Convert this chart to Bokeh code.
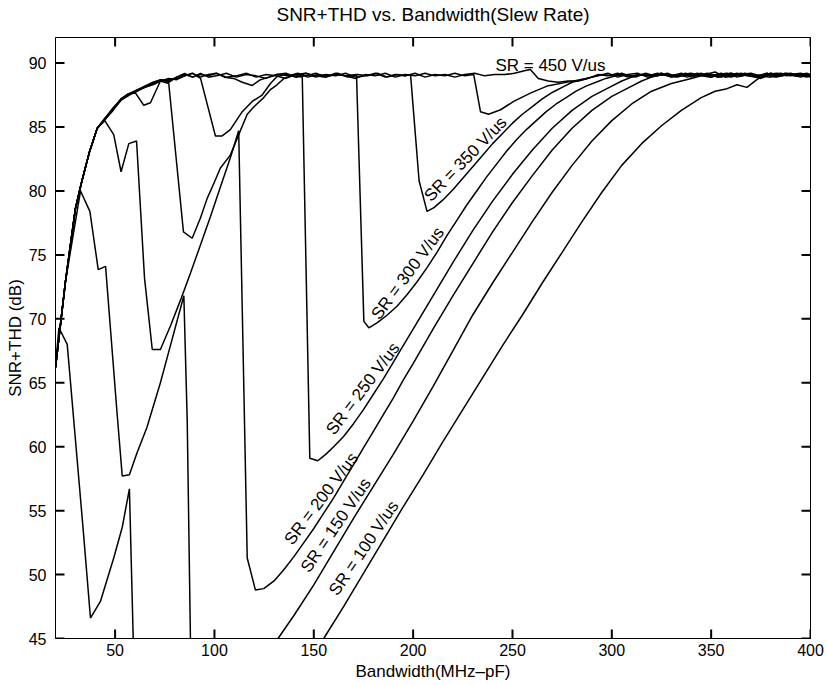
from bokeh.plotting import figure
from bokeh.models import Range1d, FixedTicker, ColumnDataSource, LinearAxis
from bokeh.embed import file_html
from bokeh.resources import INLINE
from bokeh.core.properties import value

# ---------------- data ----------------
bw_450 = [20, 25, 30, 33, 37, 41, 45, 49, 53, 57, 61, 65, 69, 73, 77, 81, 85, 89, 93, 97, 101, 106, 111, 116, 121,
          126, 131, 136, 141, 146, 151, 156, 161, 166, 171, 176, 181, 186, 191, 196, 201, 206, 211, 216, 221, 226,
          231, 236, 241, 246, 251, 256, 259, 263, 268, 273, 278, 283, 288, 293, 298, 303, 308, 313, 318, 323, 328,
          333, 338, 343, 348, 353, 358, 363, 368, 373, 378, 383, 388, 393, 398, 400]
snr_450 = [66.2, 72.9, 78.6, 80.6, 83.0, 84.9, 85.7, 86.5, 87.2, 87.6, 87.9, 88.2, 88.5, 88.7, 88.6, 88.9, 89.1, 88.9,
           89.2, 88.9, 89.0, 89.2, 88.9, 89.1, 89.0, 88.8, 89.1, 89.2, 88.9, 89.0, 89.2, 88.9, 89.1, 89.0, 88.8, 89.1,
           89.0, 89.2, 88.9, 89.1, 89.0, 89.2, 89.0, 89.1, 88.9, 89.1, 89.2, 89.0, 89.1, 89.1, 89.2, 89.4, 89.5, 88.8,
           88.6, 88.5, 88.6, 88.6, 88.8, 89.1, 89.0, 89.2, 88.9, 89.1, 89.0, 89.2, 89.0, 89.1, 88.9, 89.2, 89.0, 89.1,
           89.2, 88.9, 89.1, 89.0, 89.2, 88.9, 89.1, 89.0, 89.2, 89.1]

bw_400 = [20, 25, 30, 33, 37, 41, 45, 49, 53, 57, 61, 65, 69, 73, 77, 81, 85, 89, 93, 97, 101, 106, 111, 116, 121,
          126, 131, 136, 141, 146, 151, 156, 161, 166, 171, 176, 181, 186, 191, 196, 201, 206, 211, 216, 221, 226,
          230.5, 233.9, 238, 244, 250.6, 259, 267.4, 279, 287, 293, 298, 303, 308, 313, 318, 323, 328, 333, 338, 343,
          348, 353, 358, 363, 368, 373, 378, 383, 388, 393, 398, 400]
snr_400 = [66.2, 72.9, 78.6, 80.6, 83.0, 84.9, 85.6, 86.4, 87.1, 87.5, 87.8, 88.1, 88.4, 88.6, 88.7, 88.8, 89.0, 89.2,
           88.9, 89.1, 89.2, 88.9, 89.0, 89.2, 88.9, 89.1, 89.0, 88.8, 89.1, 89.2, 88.9, 89.1, 89.0, 89.2, 88.9, 89.0,
           89.2, 88.9, 89.1, 89.0, 89.2, 88.9, 89.1, 89.0, 89.2, 89.0, 89.1, 86.2, 86.0, 86.35, 87.0, 87.65, 88.2,
           88.55, 88.8, 89.0, 89.2, 88.9, 89.1, 89.2, 88.9, 89.0, 89.2, 88.9, 89.1, 89.0, 89.2, 88.9, 89.0, 89.2,
           89.0, 88.9, 89.1, 89.2, 89.0, 89.1, 88.9, 89.0]

bw_350 = [20, 25, 30, 33, 37, 41, 45, 49, 53, 57, 61, 65, 69, 73, 77, 81, 85, 89, 93, 97, 101, 105, 109.7, 114, 119,
          123.2, 127.3, 132, 137, 142, 147, 152, 157, 162, 167, 172, 177, 182, 187, 192, 196, 198.7, 203, 207, 210.5,
          215, 220, 225, 230, 235, 240, 245, 250, 255, 260, 265, 270, 275, 280, 285, 290, 295, 300, 305, 310, 315,
          320, 325, 330, 335, 340, 345, 350, 355, 360, 365, 370, 375, 380, 385, 390, 395, 400]
snr_350 = [66.2, 72.9, 78.6, 80.6, 83.0, 84.9, 85.6, 86.4, 87.2, 87.6, 87.8, 88.2, 88.4, 88.7, 88.5, 88.9, 89.2, 88.9,
           89.1, 89.0, 89.2, 88.9, 88.8, 88.5, 88.25, 88.7, 88.9, 89.1, 89.0, 89.2, 88.9, 89.1, 89.0, 89.2, 88.9, 89.1,
           89.0, 89.2, 88.9, 89.1, 89.0, 89.1, 80.8, 78.4, 78.7, 79.3, 80.1, 81.0, 81.9, 82.8, 83.7, 84.5, 85.3, 86.0,
           86.6, 87.2, 87.7, 88.1, 88.5, 88.7, 88.9, 89.1, 89.0, 89.2, 88.9, 89.1, 89.0, 89.2, 88.9, 89.1, 89.2, 89.0,
           88.9, 89.1, 89.2, 89.0, 89.1, 88.9, 89.2, 89.0, 89.1, 88.9, 89.1]

bw_300 = [20, 25, 30, 33, 37, 41, 45, 49, 53, 57, 61, 65, 69, 73, 77, 81, 85, 89, 93, 100.5, 103.9, 108, 114, 119,
          124, 128.2, 131.5, 136, 141, 146, 151, 156, 161, 166, 171.5, 175.2, 177.7, 182, 187, 192, 197, 202, 207,
          212, 217, 222, 227, 232, 237, 242, 247, 252, 257, 262, 267, 272, 277, 282, 287, 292, 297, 302, 307, 312,
          317, 322, 327, 332, 337, 342, 347, 352, 357, 362, 367, 372, 377, 382, 387, 392, 397, 400]
snr_300 = [66.2, 72.9, 78.6, 80.6, 83.0, 84.9, 85.6, 86.3, 87.1, 87.5, 87.9, 88.1, 88.3, 88.6, 88.8, 88.7, 89.0, 89.2,
           88.8, 84.3, 84.3, 84.8, 86.2, 87.0, 87.5, 88.4, 88.95, 89.1, 88.9, 89.2, 89.0, 88.9, 89.2, 89.0, 89.1, 69.8,
           69.3, 69.7, 70.3, 71.0, 71.9, 72.9, 74.0, 75.2, 76.5, 77.7, 78.9, 80.0, 81.1, 82.1, 83.1, 84.0, 84.8, 85.5,
           86.2, 86.8, 87.3, 87.8, 88.2, 88.5, 88.8, 89.0, 89.1, 88.9, 89.2, 89.0, 89.1, 88.9, 89.2, 89.0, 89.1, 89.3,
           88.9, 89.0, 89.2, 89.0, 89.1, 88.9, 89.2, 89.0, 89.1, 89.0]

bw_250 = [20, 25, 30, 33, 37, 41, 45, 49, 53, 56.5, 60.3, 64.4, 67.8, 72.8, 77, 84.4, 88.8, 93, 96.3, 100, 103, 108,
          113, 116.5, 120, 124.8, 128, 131.5, 135, 140, 144.2, 148, 152, 156, 160, 165, 170, 175, 180, 185, 190, 195,
          200, 210, 220, 230, 240, 250, 260, 270, 280, 290, 300, 305, 310, 315, 320, 325, 330, 335, 340, 345, 350,
          355, 360, 365, 370, 375, 380, 385, 390, 395, 400]
snr_250 = [66.2, 72.9, 78.6, 80.6, 83.0, 84.9, 85.7, 86.4, 87.2, 87.6, 87.65, 86.7, 86.9, 88.6, 88.4, 76.8, 76.3, 77.9,
           79.4, 80.7, 81.8, 82.8, 84.7, 86.0, 86.6, 87.3, 87.9, 88.3, 88.8, 89.1, 88.9, 59.1, 58.9, 59.4, 60.0, 60.8,
           61.8, 62.9, 64.1, 65.3, 66.6, 67.9, 69.2, 71.8, 74.4, 76.9, 79.2, 81.3, 83.2, 84.9, 86.3, 87.4, 88.2, 88.6,
           88.9, 89.1, 89.0, 89.2, 88.9, 89.1, 89.0, 89.2, 88.9, 89.1, 89.0, 89.2, 89.0, 88.8, 89.1, 89.2, 89.0, 89.1,
           88.9]

bw_200 = [20, 25, 30, 33, 37, 41, 44.8, 49.3, 53, 56.9, 60.8, 64.8, 68.7, 72.8, 78, 83, 88, 93, 98, 103, 108, 112.2,
          116.5, 120.6, 124.8, 130, 135, 140, 145, 150, 155, 160, 165, 170, 175, 180, 185, 190, 195, 200, 210, 220,
          230, 240, 250, 260, 270, 280, 290, 300, 310, 315, 320, 325, 330, 335, 340, 345, 350, 355, 360, 365, 370,
          375, 380, 385, 390, 395, 400]
snr_200 = [66.2, 72.9, 78.6, 80.6, 83.0, 84.9, 85.5, 84.4, 81.5, 83.7, 83.9, 73.2, 67.6, 67.6, 69.5, 71.5, 73.6, 75.8,
           78.0, 80.3, 82.6, 84.7, 51.3, 48.8, 48.9, 49.5, 50.4, 51.4, 52.5, 53.6, 54.8, 56.0, 57.3, 58.6, 59.9, 61.2,
           62.5, 63.8, 65.2, 66.5, 69.2, 71.8, 74.3, 76.8, 79.1, 81.2, 83.2, 84.9, 86.3, 87.4, 88.2, 88.6, 88.9, 89.1,
           89.0, 89.2, 88.9, 89.1, 89.0, 89.2, 88.9, 89.1, 89.2, 89.0, 88.9, 89.1, 89.2, 89.0, 89.1]

bw_150 = [20, 25, 32.6, 37.3, 41.5, 45.2, 51, 53.6, 57.2, 61, 66, 72.8, 78, 84.6, 86.3, 88.2, 110, 128, 132, 140, 150,
          160, 170, 180, 190, 200, 210, 220, 230, 240, 250, 260, 270, 280, 290, 300, 310, 320, 330, 340, 345, 350,
          355, 360, 365, 370, 375, 380, 385, 390, 395, 400]
snr_150 = [66.2, 72.9, 80.0, 78.4, 73.85, 74.1, 62.6, 57.7, 57.8, 59.5, 61.5, 65.0, 68.0, 71.8, 62.0, 42.0, 30.0, 40.0,
           45.0, 46.8, 49.2, 51.8, 54.4, 56.9, 59.4, 62.0, 64.7, 67.5, 70.3, 72.8, 75.2, 77.6, 79.9, 82.0, 83.9, 85.5,
           86.8, 87.8, 88.4, 88.8, 89.0, 89.1, 88.9, 89.2, 89.0, 89.1, 88.9, 89.2, 89.0, 89.1, 89.2, 89.0]

bw_100 = [20, 21.7, 25.9, 30, 34, 37.6, 42.6, 49.3, 53.6, 57.2, 59.1, 59.5, 90, 130, 150, 155, 165, 175, 185, 195, 205,
          215, 225, 235, 245, 255, 265, 275, 285, 295, 305, 315, 325, 335, 345, 352, 358, 363, 368, 373, 378, 383,
          388, 393, 398, 400]
snr_100 = [66.2, 69.3, 68.0, 60.6, 53.4, 46.6, 47.9, 51.3, 53.7, 56.7, 45.1, 40.0, 32.0, 35.0, 43.8, 45.0, 47.5, 50.1,
           52.7, 55.3, 57.8, 60.4, 62.9, 65.4, 67.9, 70.3, 72.8, 75.2, 77.6, 79.9, 82.0, 83.7, 85.1, 86.3, 87.3, 87.8,
           88.0, 88.3, 88.1, 88.7, 89.2, 89.0, 89.2, 89.0, 89.1, 89.0]

x_ticks = [50, 100, 150, 200, 250, 300, 350, 400]
y_ticks = [45, 50, 55, 60, 65, 70, 75, 80, 85, 90]

title_text = "SNR+THD vs. Bandwidth(Slew Rate)"
labels = ["SR = 450 V/us", "SR = 350 V/us", "SR = 300 V/us", "SR = 250 V/us",
          "SR = 200 V/us", "SR = 150 V/us", "SR = 100 V/us"]

# label placement (annotation positions, data coordinates) and rotation
label_x = [241.4, 207.1, 180.8, 158.1, 137.1, 145.4, 159.7]
label_y = [89.8, 79.4, 70.1, 61.1, 52.5, 50.3, 48.5]
label_angle = [0, 46, 53.5, 53, 53, 55.5, 56]

# ---------------- figure ----------------
FONT = "Liberation Sans"
X0, X1, Y0, Y1 = 20, 400, 45, 92
W, H = 827, 685
BL, BR, BT, BB = 55, 17, 36, 47
FW, FH = W - BL - BR, H - BT - BB

p = figure(width=W, height=H, output_backend="svg", toolbar_location=None,
           x_range=Range1d(X0, X1), y_range=Range1d(Y0, Y1),
           min_border_left=BL, min_border_right=BR, min_border_top=BT, min_border_bottom=BB)

p.background_fill_color = "white"
p.border_fill_color = "white"
p.outline_line_color = "black"
p.outline_line_width = 1
p.xgrid.grid_line_color = None
p.ygrid.grid_line_color = None

curves = [(bw_450, snr_450), (bw_400, snr_400), (bw_350, snr_350), (bw_300, snr_300),
          (bw_250, snr_250), (bw_200, snr_200), (bw_150, snr_150), (bw_100, snr_100)]
for bw, snr in curves:
    p.line(bw, snr, line_color="black", line_width=1.5)

src = ColumnDataSource(dict(x=label_x, y=label_y, t=labels, a=label_angle))
p.text(x="x", y="y", text="t", angle="a", angle_units="deg", source=src,
       text_font=value(FONT), text_font_size=value("17px"), text_color="black",
       text_align="left", text_baseline="alphabetic")

# inward tick marks on all four sides of the box, 9 px long
TICK = 9
dx = TICK * (X1 - X0) / FW
dy = TICK * (Y1 - Y0) / FH
tick_src = dict(
    bottom=dict(x0=x_ticks, y0=[Y0] * len(x_ticks), x1=x_ticks, y1=[Y0 + dy] * len(x_ticks)),
    top=dict(x0=x_ticks, y0=[Y1] * len(x_ticks), x1=x_ticks, y1=[Y1 - dy] * len(x_ticks)),
    left=dict(x0=[X0] * len(y_ticks), y0=y_ticks, x1=[X0 + dx] * len(y_ticks), y1=y_ticks),
    right=dict(x0=[X1] * len(y_ticks), y0=y_ticks, x1=[X1 - dx] * len(y_ticks), y1=y_ticks),
)
for side, d in tick_src.items():
    p.segment(x0="x0", y0="y0", x1="x1", y1="y1", source=ColumnDataSource(d),
              line_color="black", line_width=2)

for ax in (p.xaxis[0], p.yaxis[0]):
    ax.major_tick_in = 0
    ax.major_tick_out = 0
    ax.minor_tick_line_color = None
    ax.axis_line_color = "black"
    ax.major_label_text_font = FONT
    ax.major_label_text_font_size = "16px"
    ax.major_label_text_color = "black"
    ax.axis_label_text_font = FONT
    ax.axis_label_text_font_style = "normal"
    ax.axis_label_text_font_size = "17px"
    ax.axis_label_text_color = "black"

xa = p.xaxis[0]
xa.ticker = FixedTicker(ticks=x_ticks)
xa.axis_label = "Bandwidth(MHz\u2013pF)"
xa.major_label_standoff = 5
xa.axis_label_standoff = 3

ya = p.yaxis[0]
ya.ticker = FixedTicker(ticks=y_ticks)
ya.axis_label = "SNR+THD (dB)"
ya.major_label_standoff = 9
ya.axis_label_standoff = 1

# title carried by a tick-less axis above the frame
top = LinearAxis(ticker=FixedTicker(ticks=[]), axis_label=title_text)
top.axis_line_color = None
top.major_tick_line_color = None
top.minor_tick_line_color = None
top.major_tick_in = 0
top.major_tick_out = 0
top.major_label_standoff = 0
top.axis_label_standoff = 13
top.axis_label_text_font = FONT
top.axis_label_text_font_style = "normal"
top.axis_label_text_font_size = "19px"
top.axis_label_text_color = "black"
p.add_layout(top, "above")

open("out.html", "w").write(file_html(p, INLINE))
